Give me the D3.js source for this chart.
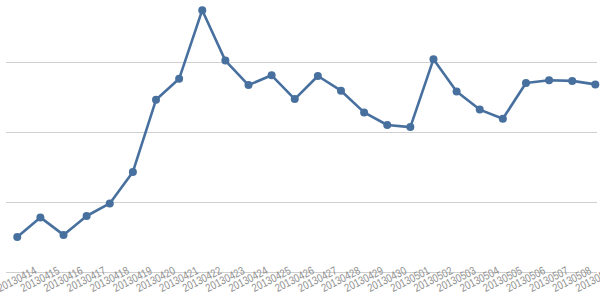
<!DOCTYPE html>
<html><head><meta charset="utf-8">
<script src="https://cdn.jsdelivr.net/npm/d3@7/dist/d3.min.js"></script>
<style>body{margin:0;background:#fff;}svg{display:block;}</style>
</head><body>
<svg id="c" width="600" height="303"></svg>
<script>
const categories = ["20130414","20130415","20130416","20130417","20130418","20130419","20130420","20130421","20130422","20130423","20130424","20130425","20130426","20130427","20130428","20130429","20130430","20130501","20130502","20130503","20130504","20130505","20130506","20130507","20130508","20130509"];
const values = [50,78,53,80,98,143,246,276,374,302,267,281,247,280,259,228,210,207,304,258,232,219,270,274,273,268];
const yTicks = [0,100,200,300];

const svg = d3.select("#c");
const x = d3.scalePoint().domain(categories).range([5.7, 606.9]).padding(0.5);
const y = d3.scaleLinear().domain([0,300]).range([272,62]);

// gridlines
svg.append("g").selectAll("line").data(yTicks).join("line")
  .attr("x1",6).attr("x2",597)
  .attr("y1",d=>y(d)+0.5).attr("y2",d=>y(d)+0.5)
  .attr("stroke","#d0d0d0").attr("stroke-width",1);

// x labels
svg.append("g").selectAll("text").data(categories).join("text")
  .attr("transform",d=>`translate(${x(d)},${280}) rotate(-27)`)
  .attr("text-anchor","middle").attr("dominant-baseline","middle")
  .attr("font-family","Liberation Sans Narrow, Liberation Sans, Arial, sans-serif").attr("font-size",11.5)
  .attr("textLength",42).attr("lengthAdjust","spacingAndGlyphs")
  .attr("fill","#909090")
  .text(d=>d);

const line = d3.line().x((d,i)=>x(categories[i])).y(d=>y(d));
svg.append("path").datum(values).attr("d",line)
  .attr("fill","none").attr("stroke","#48709f").attr("stroke-width",2.6)
  .attr("stroke-linejoin","round");

svg.append("g").selectAll("circle").data(values).join("circle")
  .attr("cx",(d,i)=>x(categories[i])).attr("cy",d=>y(d)).attr("r",4)
  .attr("fill","#48709f");
</script>
</body></html>
